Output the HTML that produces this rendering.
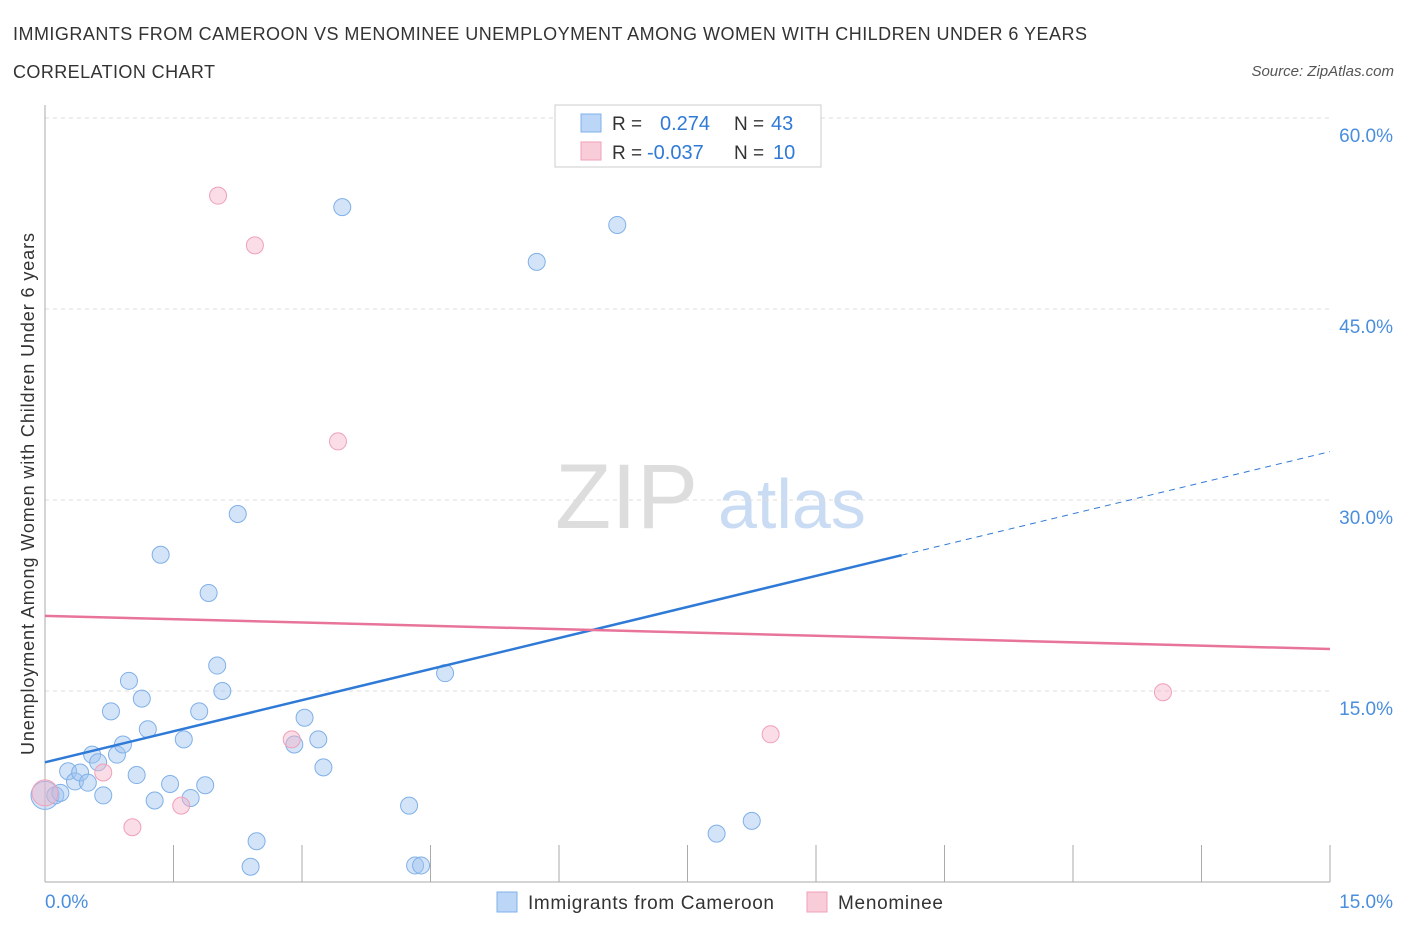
<!DOCTYPE html>
<html><head><meta charset="utf-8"><style>
body{margin:0;background:#fff;font-family:"Liberation Sans",sans-serif;}
svg text{font-family:"Liberation Sans",sans-serif;}
</style></head><body>
<svg width="1406" height="930" xmlns="http://www.w3.org/2000/svg" id="chart">
<text x="13" y="40" font-size="18" fill="#333" textLength="1074">IMMIGRANTS FROM CAMEROON VS MENOMINEE UNEMPLOYMENT AMONG WOMEN WITH CHILDREN UNDER 6 YEARS</text>
<text x="13" y="78" font-size="18" fill="#333" textLength="202">CORRELATION CHART</text>
<text x="1394" y="76" font-size="15" fill="#555" text-anchor="end" font-style="italic">Source: ZipAtlas.com</text>
<text x="555" y="528" font-size="92" fill="#ddd" font-family="Liberation Serif">ZIP</text>
<text x="718" y="528" font-size="70" fill="#c9dcf3">atlas</text>
<g id="grid"></g>
<g id="marks"></g>
<text transform="translate(34,494) rotate(-90)" font-size="18" fill="#333" text-anchor="middle" textLength="522">Unemployment Among Women with Children Under 6 years</text>
<rect x="555" y="105" width="266" height="62" fill="#fff" stroke="#ccc"/>
<rect x="581" y="114" width="20" height="18" fill="#bcd6f7" stroke="#7fb0e8"/>
<text x="612" y="130" font-size="19" fill="#333">R =</text>
<text x="660" y="130" font-size="20" fill="#2f7ad6">0.274</text>
<text x="734" y="130" font-size="19" fill="#333">N =</text>
<text x="771" y="130" font-size="20" fill="#2f7ad6">43</text>
<rect x="581" y="142" width="20" height="18" fill="#f9ccd9" stroke="#f0a0b8"/>
<text x="612" y="159" font-size="19" fill="#333">R =</text>
<text x="647" y="159" font-size="20" fill="#2f7ad6">-0.037</text>
<text x="734" y="159" font-size="19" fill="#333">N =</text>
<text x="773" y="159" font-size="20" fill="#2f7ad6">10</text>
<rect x="497" y="892" width="20" height="20" fill="#bcd6f7" stroke="#7fb0e8"/>
<text x="528" y="909" font-size="19" fill="#333" textLength="246">Immigrants from Cameroon</text>
<rect x="807" y="892" width="20" height="20" fill="#f9ccd9" stroke="#f0a0b8"/>
<text x="838" y="909" font-size="19" fill="#333" textLength="105">Menominee</text>
</svg>
<script>
const blueX=[0.0,0.12,0.18,0.27,0.35,0.41,0.50,0.55,0.62,0.68,0.77,0.84,0.91,0.98,1.07,1.13,1.20,1.28,1.35,1.46,1.62,1.70,1.80,1.87,1.91,2.01,2.07,2.25,2.40,2.47,2.91,3.03,3.19,3.25,3.47,4.25,4.32,4.39,4.67,5.74,6.68,7.84,8.25];
const blueY=[6.8,6.8,7.0,8.7,7.9,8.6,7.8,10.0,9.4,6.8,13.4,10.0,10.8,15.8,8.4,14.4,12.0,6.4,25.7,7.7,11.2,6.6,13.4,7.6,22.7,17.0,15.0,28.9,1.2,3.2,10.8,12.9,11.2,9.0,53.0,6.0,1.3,1.3,16.4,48.7,51.6,3.8,4.8];
const pinkX=[0.0,0.68,1.02,1.59,2.02,2.45,2.88,3.42,8.47,13.05];
const pinkY=[7.0,8.6,4.3,6.0,53.9,50.0,11.2,34.6,11.6,14.9];
const blueLine=[9.4,33.8];
const pinkLine=[20.9,18.3];
const yTicks=[15,30,45,60];
const xTicks=[0,1.5,3,4.5,6,7.5,9,10.5,12,13.5,15];
const NS="http://www.w3.org/2000/svg";
const sx=v=>45+v/15*1285, sy=v=>882-v/15*191;
function mk(t,a,p){const e=document.createElementNS(NS,t);for(const k in a)e.setAttribute(k,a[k]);p.appendChild(e);return e;}
const g=document.getElementById('grid'),m=document.getElementById('marks');
yTicks.forEach(t=>{const l=mk('line',{x1:45,x2:1330,y1:sy(t),y2:sy(t),stroke:'#ddd','stroke-dasharray':'4,4'},g);


const tx=mk('text',{x:1393,y:sy(t)+24,'font-size':19,fill:'#4a8ede','text-anchor':'end'},g);tx.textContent=t.toFixed(1)+'%';

});
mk('line',{x1:45,x2:45,y1:105,y2:882,stroke:'#aaa'},g);
mk('line',{x1:45,x2:1330,y1:882,y2:882,stroke:'#aaa'},g);
xTicks.forEach(t=>{const l=mk('line',{x1:sx(t),x2:sx(t),y1:845,y2:882,stroke:'#aaa'},g);

});
[[0,'0.0%','start',45],[15,'15.0%','end',1393]].forEach(a=>{const tx=mk('text',{x:a[3],y:908,'font-size':19,fill:'#4a8ede','text-anchor':a[2]},g);tx.textContent=a[1];

});
blueX.forEach((x,i)=>{const c=mk('circle',{cx:sx(x),cy:sy(blueY[i]),r:i==0?14:8.5,fill:'rgba(160,196,240,0.45)',stroke:'#7fb0e8','stroke-width':1},m);

});
pinkX.forEach((x,i)=>{const c=mk('circle',{cx:sx(x),cy:sy(pinkY[i]),r:i==0?13:8.5,fill:'rgba(245,180,200,0.45)',stroke:'#f0a0b8','stroke-width':1},m);

});
const by=x=>blueLine[0]+(blueLine[1]-blueLine[0])*x/15;
let l=mk('line',{x1:sx(0),y1:sy(by(0)),x2:sx(10),y2:sy(by(10)),stroke:'#2f7ad6','stroke-width':2.5},m);


l=mk('line',{x1:sx(10),y1:sy(by(10)),x2:sx(15),y2:sy(by(15)),stroke:'#2f7ad6','stroke-width':1,'stroke-dasharray':'6,5'},m);


l=mk('line',{x1:sx(0),y1:sy(pinkLine[0]),x2:sx(15),y2:sy(pinkLine[1]),stroke:'#e8749a','stroke-width':2.5},m);


</script>
</body></html>
